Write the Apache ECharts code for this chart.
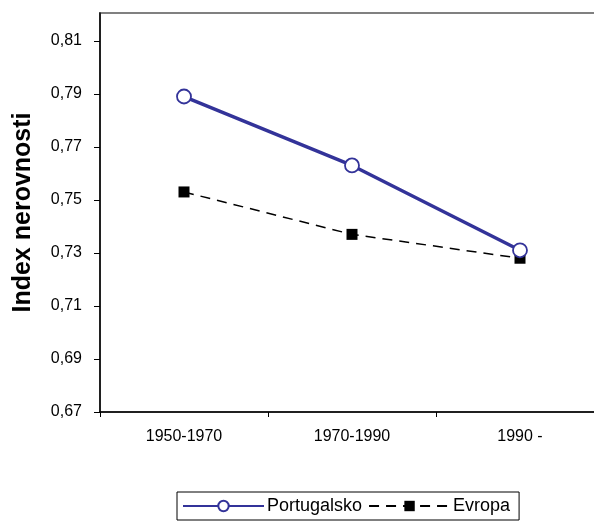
<!DOCTYPE html>
<html>
<head>
<meta charset="utf-8">
<script src="https://cdn.jsdelivr.net/npm/echarts@6/dist/echarts.min.js"></script>
<style>
  html, body { margin: 0; padding: 0; background: #fff; }
  #chart { width: 594px; height: 524px; }
</style>
</head>
<body>
<div id="chart"></div>
<script>
// obdobja
var categories = ['1950-1970', '1970-1990', '1990 -'];
var portugalsko = [0.789, 0.763, 0.731];
var evropa = [0.753, 0.737, 0.728];
var yTicks = [0.67, 0.69, 0.71, 0.73, 0.75, 0.77, 0.79, 0.81];

var myChart = echarts.init(document.getElementById('chart'));

var option = {
	backgroundColor: '#fff',
	animation: false,
	textStyle: { fontFamily: 'Liberation Sans, Arial, sans-serif' },
	grid: {
		left: 100,
		top: 13,
		width: 504,
		height: 399,
		outerBoundsMode: 'none',
		show: true,
		borderColor: '#808080',
		borderWidth: 2
	},
	legend: {
		data: ['Portugalsko', 'Evropa'],
		left: 177,
		top: 492,
		itemWidth: 81,
		itemHeight: 13,
		itemGap: 6,
		padding: [5, 9, 5, 5],
		borderColor: '#000',
		borderWidth: 1,
		textStyle: { fontSize: 18, color: '#000', padding: [0, 0, 0, -2], fontFamily: 'Liberation Sans, Arial, sans-serif' }
	},
	xAxis: {
		type: 'category',
		data: categories,
		boundaryGap: true,
		axisLine: { lineStyle: { color: '#000', width: 1.5 } },
		axisTick: { show: true, length: 5, lineStyle: { color: '#000' } },
		axisLabel: { color: '#000', fontSize: 16, margin: 17 },
		splitLine: { show: false }
	},
	yAxis: {
		type: 'value',
		min: 0.67,
		max: 0.8205,
		name: 'Index nerovnosti',
		nameLocation: 'middle',
		nameGap: 64,
		nameTextStyle: { fontSize: 25, fontWeight: 'bold', color: '#000' },
		axisLine: { show: true, lineStyle: { color: '#000', width: 1.5 } },
		axisTick: { show: true, length: 6, lineStyle: { color: '#000' }, customValues: yTicks },
		axisLabel: {
			color: '#000',
			fontSize: 16,
			margin: 18,
			customValues: yTicks,
			formatter: function (v) { return v.toFixed(2).replace('.', ','); }
		},
		splitLine: { show: false }
	},
	series: [{
		name: 'Portugalsko',
		type: 'line',
		data: portugalsko,
		symbol: 'circle',
		symbolSize: 14,
		itemStyle: { color: '#fff', borderColor: '#333399', borderWidth: 1.8 },
		lineStyle: { color: '#333399', width: 3.5 },
		z: 3
	}, {
		name: 'Evropa',
		type: 'line',
		data: evropa,
		symbol: 'rect',
		symbolSize: 11,
		itemStyle: { color: '#000' },
		lineStyle: { color: '#000', width: 1.5, type: [10, 7] },
		z: 2
	}]
};

myChart.setOption(option);
</script>
</body>
</html>
